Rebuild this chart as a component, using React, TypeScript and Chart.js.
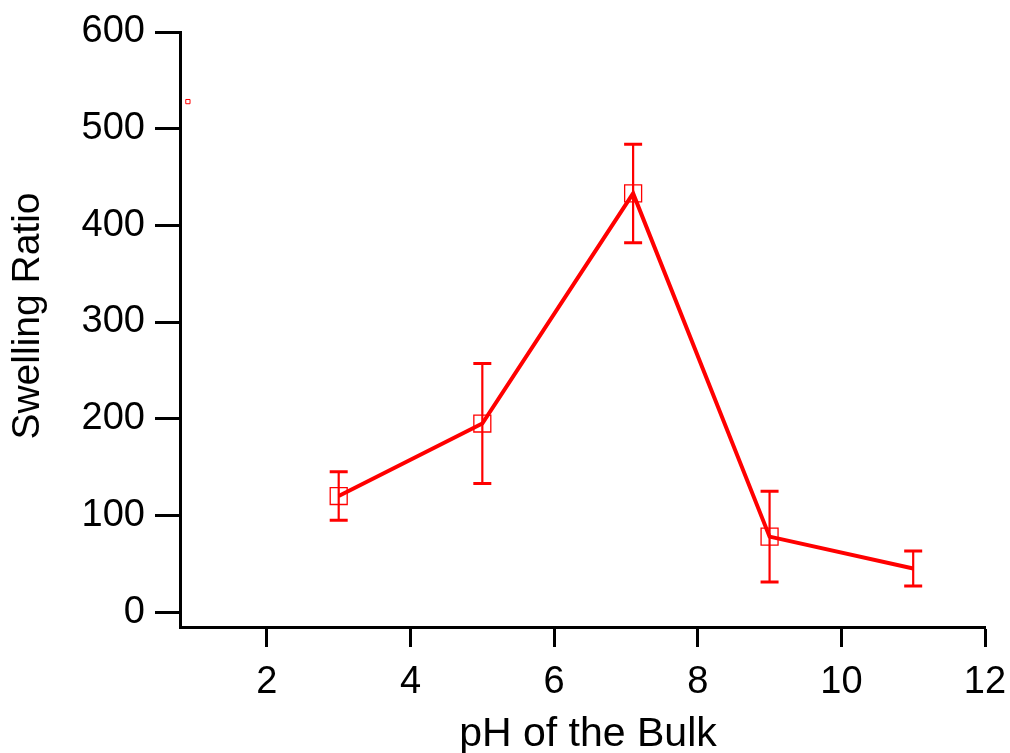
import React, { useEffect, useRef } from "react";
import { Chart, registerables } from "chart.js";

Chart.register(...registerables);

const phValues: number[] = [3, 5, 7.1, 9, 11];
const swellingRatio: number[] = [120, 195, 433, 78, 45];
const swellingError: number[] = [25, 62, 51, 47, 18];
const markerShown: boolean[] = [true, true, true, true, false];
const strayX: number[] = [0.9];
const strayY: number[] = [528];
const xTickStep = 2;
const yTickStep = 100;
const xTitle = "pH of the Bulk";
const yTitle = "Swelling Ratio";

const RED = "#ff0000";
const FONT = "'Liberation Sans', Arial, sans-serif";

const errorBarPlugin = {
  id: "errorBars",
  afterDatasetsDraw(chart: any) {
    const { ctx, scales } = chart;
    const xs = scales.x;
    const ys = scales.y;
    ctx.save();
    ctx.strokeStyle = RED;
    for (let i = 0; i < phValues.length; i++) {
      const px = xs.getPixelForValue(phValues[i]);
      const top = ys.getPixelForValue(swellingRatio[i] + swellingError[i]);
      const bot = ys.getPixelForValue(swellingRatio[i] - swellingError[i]);
      ctx.lineWidth = 2.2;
      ctx.beginPath();
      ctx.moveTo(px, top);
      ctx.lineTo(px, bot);
      ctx.stroke();
      ctx.lineWidth = 3;
      ctx.beginPath();
      ctx.moveTo(px - 9, top);
      ctx.lineTo(px + 9, top);
      ctx.moveTo(px - 9, bot);
      ctx.lineTo(px + 9, bot);
      ctx.stroke();
    }
    ctx.restore();
  },
};

const titlePlugin = {
  id: "axisTitles",
  afterDraw(chart: any) {
    const { ctx } = chart;
    ctx.save();
    ctx.fillStyle = "#000";
    ctx.textAlign = "center";
    ctx.textBaseline = "middle";
    ctx.font = `41px ${FONT}`;
    ctx.fillText(xTitle, 588, 735);
    ctx.font = `39px ${FONT}`;
    ctx.translate(28, 316);
    ctx.rotate(-Math.PI / 2);
    ctx.fillText(yTitle, 0, 0);
    ctx.restore();
  },
};

export default function App() {
  const ref = useRef<HTMLCanvasElement | null>(null);
  useEffect(() => {
    document.body.style.margin = "0";
    const canvas = ref.current;
    if (!canvas) return;
    const chart = new Chart(canvas, {
      type: "line",
      data: {
        datasets: [
          {
            data: phValues.map((x, i) => ({ x, y: swellingRatio[i] })),
            borderColor: RED,
            borderWidth: 4,
            backgroundColor: "rgba(0,0,0,0)",
            pointStyle: "rect",
            pointRadius: markerShown.map((m) => (m ? 12 : 0)),
            pointBorderWidth: 1.3,
            pointBorderColor: RED,
            pointBackgroundColor: "rgba(0,0,0,0)",
            tension: 0,
            fill: false,
          },
          {
            data: strayX.map((x, i) => ({ x, y: strayY[i] })),
            showLine: false,
            pointStyle: "rect",
            pointRadius: 3,
            pointBorderWidth: 1,
            pointBorderColor: RED,
            pointBackgroundColor: "rgba(0,0,0,0)",
          },
        ],
      },
      options: {
        responsive: false,
        animation: false,
        devicePixelRatio: 1,
        layout: { padding: { top: 32, right: 25, left: 0, bottom: 0 } },
        plugins: { legend: { display: false }, tooltip: { enabled: false } },
        scales: {
          x: {
            type: "linear",
            min: 0.79,
            max: 12,
            afterFit: (s: any) => {
              s.height = 126;
              s.paddingLeft = 0;
              s.paddingRight = 0;
            },
            ticks: {
              stepSize: xTickStep,
              includeBounds: false,
              color: "#000",
              font: { family: FONT, size: 38 },
              padding: 13,
              maxRotation: 0,
            },
            grid: {
              drawOnChartArea: false,
              drawTicks: true,
              tickLength: 20,
              tickWidth: 3,
              tickColor: "#000",
            },
            border: { display: true, color: "#000", width: 3 },
          },
          y: {
            type: "linear",
            min: -15.5,
            max: 600,
            afterFit: (s: any) => {
              s.width = 180;
              s.paddingTop = 0;
              s.paddingBottom = 0;
            },
            ticks: {
              stepSize: yTickStep,
              includeBounds: false,
              color: "#000",
              font: { family: FONT, size: 38 },
              padding: 10,
            },
            grid: {
              drawOnChartArea: false,
              drawTicks: true,
              tickLength: 25,
              tickWidth: 3,
              tickColor: "#000",
            },
            border: { display: true, color: "#000", width: 3 },
          },
        },
      },
      plugins: [errorBarPlugin, titlePlugin],
    } as any);
    return () => chart.destroy();
  }, []);
  return (
    <div style={{ position: "fixed", left: 0, top: 0, width: 1010, height: 753, background: "#fff" }}>
      <canvas ref={ref} width={1010} height={753} style={{ width: 1010, height: 753 }} />
    </div>
  );
}
